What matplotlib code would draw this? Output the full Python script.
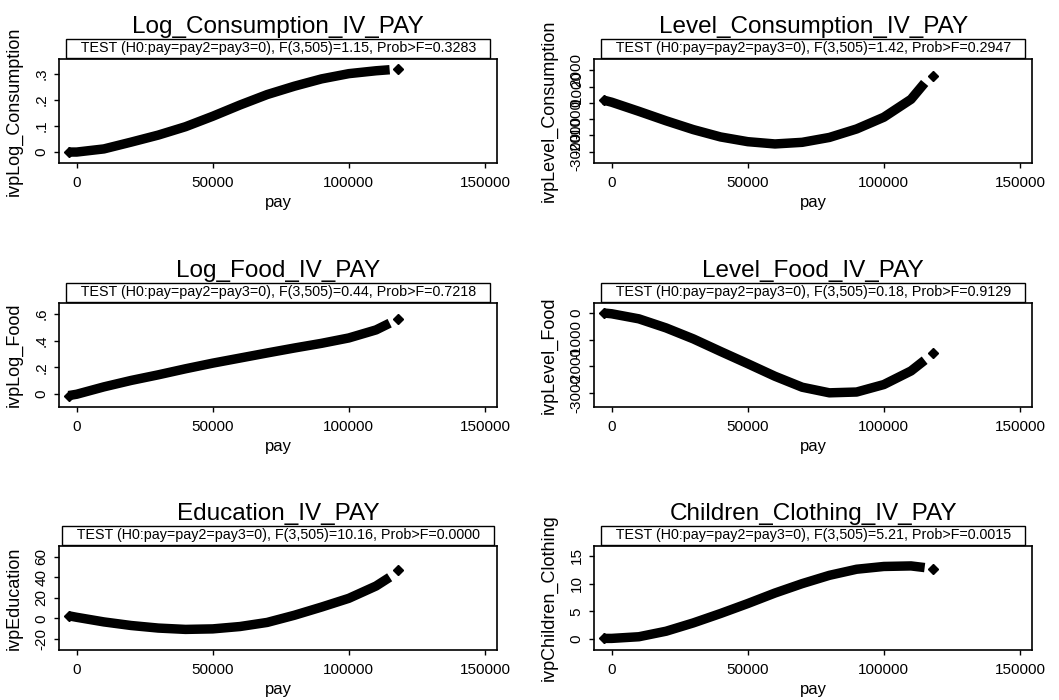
import numpy as np
import matplotlib
matplotlib.use("Agg")
import matplotlib.pyplot as plt

plt.rcParams['font.family'] = ['Liberation Sans', 'DejaVu Sans']

# pay values (same for every panel), last one is the lone point at the end
pay = [-3000, 0, 10000, 20000, 30000, 40000, 50000, 60000, 70000, 80000, 90000,
       100000, 110000, 115000, 118000]

log_cons = [0.000, 0.000, 0.012, 0.038, 0.065, 0.097, 0.137, 0.180, 0.220, 0.252,
            0.280, 0.300, 0.311, 0.315, 0.318]
level_cons = [170, 40, -520, -1100, -1640, -2090, -2380, -2520, -2420, -2120,
              -1600, -880, 220, 1220, 1640]
log_food = [-0.010, 0.000, 0.055, 0.103, 0.145, 0.190, 0.232, 0.270, 0.308, 0.345,
            0.380, 0.420, 0.480, 0.530, 0.565]
level_food = [0, -30, -220, -560, -970, -1440, -1900, -2370, -2780, -2990,
              -2960, -2680, -2170, -1770, -1500]
education = [2.5, 1.0, -3.5, -7.0, -9.5, -10.8, -10.3, -8.0, -4.0, 3.0,
             11.0, 19.5, 31.5, 40.0, 47.0]
children = [0.1, 0.1, 0.4, 1.4, 2.9, 4.6, 6.4, 8.3, 10.0, 11.5,
            12.6, 13.1, 13.2, 12.9, 12.6]

titles = ["Log_Consumption_IV_PAY", "Level_Consumption_IV_PAY",
          "Log_Food_IV_PAY", "Level_Food_IV_PAY",
          "Education_IV_PAY", "Children_Clothing_IV_PAY"]
ylabels = ["ivpLog_Consumption", "ivpLevel_Consumption",
           "ivpLog_Food", "ivpLevel_Food",
           "ivpEducation", "ivpChildren_Clothing"]
f_stats = ["1.15", "1.42", "0.44", "0.18", "10.16", "5.21"]
p_values = ["0.3283", "0.2947", "0.7218", "0.9129", "0.0000", "0.0015"]

yticks = [[0, 0.1, 0.2, 0.3],
          [-3000, -2000, -1000, 0, 1000, 2000],
          [0, 0.2, 0.4, 0.6],
          [-3000, -2000, -1000, 0],
          [-20, 0, 20, 40, 60],
          [0, 5, 10, 15]]
ytick_labels = [["0", ".1", ".2", ".3"],
                ["-3000", "-2000", "-1000", "0", "1000", "2000"],
                ["0", ".2", ".4", ".6"],
                ["-3000", "-2000", "-1000", "0"],
                ["-20", "0", "20", "40", "60"],
                ["0", "5", "10", "15"]]
ylims = [(-0.042, 0.356), (-3690, 2690), (-0.095, 0.681),
         (-3520, 375), (-30.9, 70.5), (-2.0, 16.8)]
xticks = [0, 50000, 100000, 150000]

series = [log_cons, level_cons, log_food, level_food, education, children]

fig = plt.figure(figsize=(10.59, 7.0), dpi=100)

lefts = [0.0557, 0.5609]
bottoms = [0.7671, 0.4186, 0.0714]

for i in range(6):
    row, col = i // 2, i % 2
    ax = fig.add_axes([lefts[col], bottoms[row], 0.4140, 0.1486])
    y = series[i]
    # dense band of points (drawn as a thick line) + the single point at the end
    ax.plot(pay[:-1], y[:-1], color='black', lw=6.8, solid_capstyle='butt',
            solid_joinstyle='round')
    ax.plot(pay[:1], y[:1], color='black', marker='D', ms=5.5, ls='none')
    ax.plot(pay[-1:], y[-1:], color='black', marker='D', ms=5.5, ls='none')

    ax.set_xlim(-6500, 154600)
    ax.set_ylim(*ylims[i])
    ax.set_xticks(xticks)
    ax.set_xticklabels([str(v) for v in xticks])
    ax.set_yticks(yticks[i])
    ax.set_yticklabels(ytick_labels[i], rotation=90, va='center')
    ax.tick_params(direction='out', length=3.6, width=1, labelsize=11)
    ax.tick_params(axis='x', pad=6)
    ax.tick_params(axis='y', pad=4)
    for s in ax.spines.values():
        s.set_linewidth(1.2)

    ax.set_xlabel("pay", fontsize=12, va='center')
    ax.xaxis.set_label_coords(0.5, -0.38)
    ax.set_ylabel(ylabels[i], fontsize=13, va='center')
    ax.yaxis.set_label_coords(-0.102, 0.5)

    ax.annotate(titles[i], xy=(0.5, 1.0), xycoords='axes fraction',
                xytext=(0, 19), textcoords='offset points',
                ha='center', va='baseline', fontsize=17.5)
    test = "   TEST (H0:pay=pay2=pay3=0), F(3,505)=" + f_stats[i] + \
           ", Prob>F=" + p_values[i] + "   "
    ax.annotate(test, xy=(0.5, 1.0), xycoords='axes fraction',
                xytext=(0, 7.6), textcoords='offset points',
                ha='center', va='center', fontsize=10.3,
                bbox=dict(boxstyle='square,pad=0.16', fc='white', ec='black', lw=1))

plt.savefig("out.png", dpi=100)
